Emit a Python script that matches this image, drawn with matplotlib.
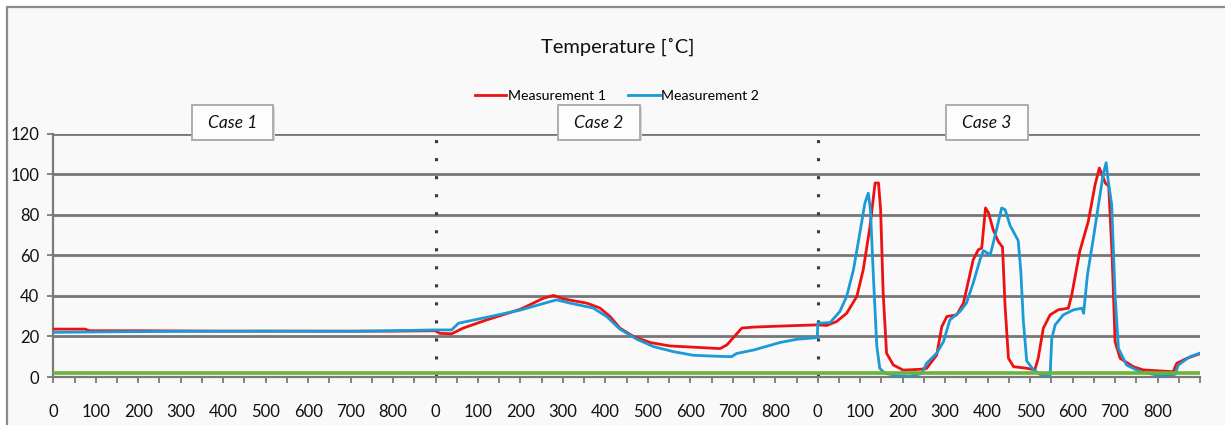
import matplotlib
matplotlib.use("Agg")
import matplotlib.pyplot as plt
from matplotlib.patches import Rectangle
import numpy as np

plt.rcParams['font.family'] = ['Lato', 'DejaVu Sans']

# ---------------- data ----------------
title = "Temperature [˚C]"
series_names = ["Measurement 1", "Measurement 2"]
case_labels = ["Case 1", "Case 2", "Case 3"]
case_length = 900
tick_labels = [0, 100, 200, 300, 400, 500, 600, 700, 800]
baseline_level = 1.8

# Case 1
red_t1 = [0, 75, 85, 200, 400, 600, 800, 899]
red_v1 = [23.6, 23.6, 22.8, 22.8, 22.6, 22.6, 22.6, 22.8]
blue_t1 = [0, 150, 300, 500, 700, 850, 899]
blue_v1 = [22.0, 22.3, 22.5, 22.6, 22.5, 23.0, 23.2]

# Case 2
red_t2 = [0, 10, 38, 65, 120, 200, 254, 278, 301, 356, 387, 411, 434, 466,
          505, 552, 607, 670, 686, 721, 749, 827, 899]
red_v2 = [22.7, 21.5, 21.3, 24.1, 28.1, 33.4, 38.8, 40.2, 38.5, 36.4, 34.0, 29.8,
          24.1, 20.0, 17.0, 15.3, 14.7, 14.0, 15.8, 24.1, 24.6, 25.2, 25.7]
blue_t2 = [0, 38, 54, 120, 200, 262, 285, 317, 371, 403, 434, 474, 513, 560,
           607, 654, 697, 709, 749, 811, 851, 899]
blue_v2 = [23.2, 23.2, 26.5, 29.4, 33.0, 36.7, 38.0, 36.4, 34.0, 29.8, 23.6, 18.6,
           15.0, 12.5, 10.7, 10.3, 10.0, 11.6, 13.3, 17.0, 18.6, 19.4]

# Case 3
red_t3 = [0, 21, 44, 68, 92, 107, 123, 135, 143, 148, 154, 162, 178, 201, 241,
          256, 280, 292, 304, 327, 343, 366, 378, 386, 395, 402, 413, 425, 435,
          441, 449, 461, 492, 511, 519, 531, 547, 566, 590, 598, 617, 637, 653,
          663, 668, 677, 685, 693, 700, 712, 743, 766, 837, 845, 869, 899]
red_v3 = [25.7, 25.4, 27.3, 31.4, 39.7, 52.8, 74.2, 95.6, 95.6, 82.5, 41.3, 11.7,
          5.9, 3.4, 3.8, 4.2, 10.8, 24.8, 29.8, 30.6, 36.4, 57.8, 62.7, 63.5, 83.3,
          80.9, 72.6, 66.8, 64.0, 35.0, 9.2, 5.1, 4.3, 3.5, 9.2, 24.0, 30.6, 33.1,
          33.9, 40.5, 62.0, 76.7, 94.8, 103.0, 100.6, 95.6, 94.0, 60.3, 17.4, 9.2,
          5.1, 3.5, 2.6, 6.7, 9.2, 11.4]
blue_t3 = [0, 29, 52, 68, 84, 99, 111, 119, 124, 131, 139, 146, 158, 193, 217,
           245, 256, 280, 296, 311, 335, 350, 366, 382, 390, 406, 417, 433, 441,
           453, 472, 478, 484, 492, 507, 523, 547, 551, 559, 578, 602, 622, 626,
           635, 649, 661, 672, 679, 684, 692, 700, 708, 727, 759, 806, 841, 849,
           876, 899]
blue_v3 = [26.5, 26.8, 32.3, 39.7, 52.8, 70.9, 85.7, 90.6, 82.5, 49.5, 15.2, 4.3,
           1.8, 0.5, 0.2, 1.8, 6.7, 11.7, 17.4, 28.1, 32.3, 36.4, 46.3, 57.8, 62.3,
           60.2, 69.2, 83.3, 82.5, 74.6, 67.2, 52.4, 27.7, 7.9, 3.8, 1.3, 0.5, 19.1,
           25.7, 30.6, 33.1, 33.9, 31.4, 50.4, 68.5, 85.0, 99.8, 105.6, 96.5, 85.0,
           40.5, 14.1, 5.9, 2.6, 0.7, 1.3, 5.9, 10.0, 11.7]

red_cases = [(red_t1, red_v1), (red_t2, red_v2), (red_t3, red_v3)]
blue_cases = [(blue_t1, blue_v1), (blue_t2, blue_v2), (blue_t3, blue_v3)]

# ---------------- build concatenated series ----------------
def concat(cases):
    xs, ys = [], []
    for k, (t, v) in enumerate(cases):
        xs.extend(np.asarray(t, float) + k * case_length)
        ys.extend(v)
    return np.array(xs), np.array(ys)

rx, ry = concat(red_cases)
bx, by = concat(blue_cases)
n_cases = len(case_labels)
x_end = n_cases * case_length

# ---------------- figure ----------------
W, H = 1225, 425
fig = plt.figure(figsize=(W / 100, H / 100), dpi=100, facecolor='white')
# chart area border (cropped at right/bottom)
border = Rectangle((7 / W, -0.05), 1.2, 1 - 7 / H + 0.05, transform=fig.transFigure,
                   facecolor='#f9f9f9', edgecolor='#8a8a8a', lw=1.6, zorder=-10)
fig.patches.append(border)

ax = fig.add_axes([53.3 / W, 1 - 377 / H, (1200 - 53.3) / W, (377 - 133.5) / H])
ax.set_zorder(5)
ax.patch.set_alpha(0)
ax.set_xlim(0, x_end)
ax.set_ylim(0, 120)

gridc = '#767676'
ax.set_yticks(np.arange(0, 121, 20))
ax.yaxis.grid(True, color=gridc, lw=2.0, zorder=1)
ax.set_axisbelow(True)

ax.set_xticks(np.arange(0, x_end + 1, 50), minor=True)
major = [k * case_length + v for k in range(n_cases) for v in tick_labels]
ax.set_xticks(major)
ax.set_xticklabels([str(v) for k in range(n_cases) for v in tick_labels])

for s in ['top', 'right']:
    ax.spines[s].set_visible(False)
for s in ['left', 'bottom']:
    ax.spines[s].set_color('#7a7a7a')
    ax.spines[s].set_linewidth(1.6)

ax.tick_params(axis='x', which='both', direction='out', length=4.5, width=1.3,
               color='#7a7a7a', labelsize=12, pad=15, labelcolor='#111111')
ax.tick_params(axis='y', direction='out', length=4, width=1.3, color='#7a7a7a',
               labelsize=12, pad=6, labelcolor='#111111')

# case separators
for k in range(1, n_cases):
    ax.plot([k * case_length, k * case_length], [0, 120], color='#3a3a3a', lw=2.2,
            linestyle=(0, (1, 4.9)), zorder=2, dash_capstyle='butt')

# series
l1, = ax.plot(rx, ry, color='#ee1111', lw=2.0, zorder=3, label=series_names[0])
l2, = ax.plot(bx, by, color='#1a9ad6', lw=2.0, zorder=4, label=series_names[1])
ax.axhline(baseline_level, color='#6ab43a', lw=2.6, zorder=5)

# case boxes
box_centers = [422, 1285, 2198]
box_w = 192
for lbl, cx in zip(case_labels, box_centers):
    ax.add_patch(Rectangle((cx - box_w / 2 + 4, 116.2), box_w, 16.8, facecolor='#d8d8d8',
                           edgecolor='none', clip_on=False, zorder=6))
    ax.add_patch(Rectangle((cx - box_w / 2, 117.0), box_w, 16.8, facecolor='#fdfdfd',
                           edgecolor='#a8a8a8', lw=1.3, clip_on=False, zorder=7))
    ax.text(cx, 125.4, lbl, ha='center', va='center', fontsize=12.5, style='italic',
            color='#111111', zorder=8, clip_on=False)

fig.text(618 / W, 1 - 47 / H, title, ha='center', va='center', fontsize=14.5, color='#111111')

fig.legend(handles=[l1, l2], loc='center', bbox_to_anchor=(617 / W, 1 - 96 / H),
           ncol=2, frameon=False, fontsize=10.2, handlelength=2.2, handletextpad=0.1,
           columnspacing=1.6)

fig.savefig('out.png', dpi=100, facecolor='white')
